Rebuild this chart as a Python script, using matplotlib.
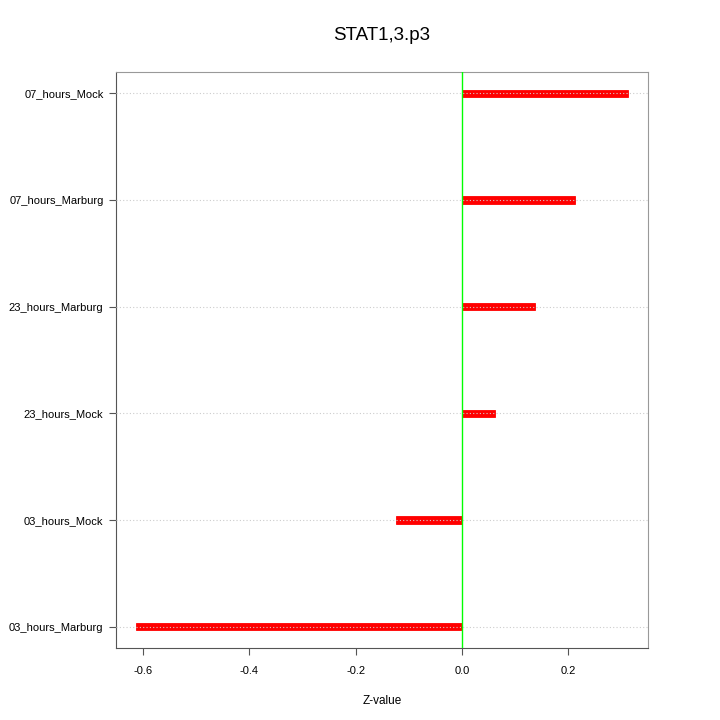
import matplotlib
matplotlib.use("Agg")
import matplotlib.pyplot as plt

plt.rcParams["font.family"] = ["Liberation Sans", "DejaVu Sans"]

# data, bottom to top
labels = ["03_hours_Marburg", "03_hours_Mock", "23_hours_Mock",
          "23_hours_Marburg", "07_hours_Marburg", "07_hours_Mock"]
zvalues = [-0.613, -0.124, 0.062, 0.137, 0.213, 0.312]
xticks = [-0.6, -0.4, -0.2, 0.0, 0.2]

fig = plt.figure(figsize=(7.2, 7.2), dpi=100)
ax = fig.add_axes([116 / 720, 72 / 720, 532 / 720, 576 / 720])

ypos = list(range(1, len(labels) + 1))
ax.barh(ypos, zvalues, height=0.07, color="#ff0000", edgecolor="#ff0000",
        linewidth=0.6, zorder=2)
for y in ypos:
    ax.axhline(y, color="#cccccc", linestyle=(0, (1, 2)), linewidth=0.8, zorder=3)
ax.axvline(0, color="#00ff00", linewidth=1.0, zorder=4)

ax.set_xlim(-0.651, 0.350)
ax.set_ylim(0.8, 6.2)
ax.set_yticks(ypos)
ax.set_yticklabels(labels, fontsize=8)
ax.set_xticks(xticks)
ax.set_xticklabels(["%.1f" % v for v in xticks], fontsize=8)
ax.tick_params(axis="y", length=5, color="#555555", pad=4)
ax.tick_params(axis="x", length=5, color="#555555", pad=8)
for s in ax.spines.values():
    s.set_color("#999999")
ax.spines["left"].set_color("#555555")
ax.spines["bottom"].set_color("#555555")

ax.set_xlabel("Z-value", fontsize=8.5, labelpad=14)
ax.set_title("STAT1,3.p3", fontsize=13.5, pad=23)

fig.savefig("out.png", dpi=100)
